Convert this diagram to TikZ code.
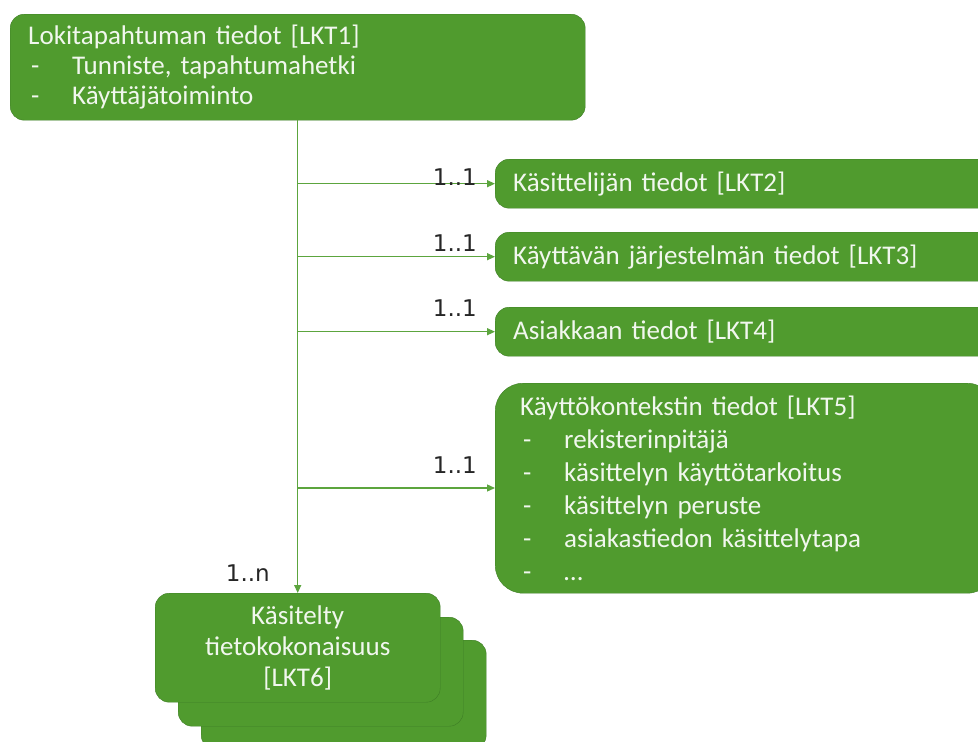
\documentclass[tikz,border=0pt]{standalone}
\usepackage{fontspec}
\setmainfont{Carlito}
\newfontfamily\cardfont{DejaVu Sans}
\usetikzlibrary{arrows.meta,positioning}
\definecolor{lgreen}{RGB}{80,155,46}
\definecolor{lborder}{RGB}{62,125,38}
\definecolor{lline}{RGB}{92,165,62}
\tikzset{
	entity/.style = {draw=lborder, fill=lgreen, text=white!92!lgreen, rounded corners=14pt,
		font=\fontsize{27}{30}\selectfont, inner xsep=18pt, inner ysep=0pt,
		anchor=north west},% tietolaatikko
	entity_l/.style = {entity, align=left, text width=464pt, minimum height=49pt},% yksirivinen
	entity_c/.style = {entity, align=center, text width=249pt, minimum height=109pt,
		font=\fontsize{27}{31}\selectfont},% kasitelty tieto
	mult/.style = {font=\cardfont\fontsize{23}{23}\selectfont, text=black!85,
		inner sep=0pt},% kardinaliteetti
	link/.style = {draw=lline, line width=1.3pt}
}
\newcommand{\kohta}[1]{\makebox[44pt][l]{\hspace{3pt}-}#1}

\begin{document}
\begin{tikzpicture}[x=1pt,y=-1pt,>={Triangle[length=8pt,width=7pt]}]
\clip (0,0) rectangle (978,742);
% paalaatikko
\node [entity, align=left, text width=539pt, minimum height=106pt] (lkt1) at (10,14)
	{Lokitapahtuman tiedot [LKT1]\\ \kohta{Tunniste, tapahtumahetki}\\ \kohta{Käyttäjätoiminto}};
% oikean puolen laatikot
\node [entity_l] (lkt2) at (495,159) {Käsittelijän tiedot [LKT2]};
\node [entity_l] (lkt3) at (495,232) {Käyttävän järjestelmän tiedot [LKT3]};
\node [entity_l] (lkt4) at (495,307) {Asiakkaan tiedot [LKT4]};
\node [entity, align=left, inner xsep=25pt, text width=450pt, minimum height=210pt,
	rounded corners=28pt, font=\fontsize{27}{33}\selectfont] (lkt5) at (495,383)
	{Käyttökontekstin tiedot [LKT5]\\ \kohta{rekisterinpitäjä}\\ \kohta{käsittelyn käyttötarkoitus}\\
	 \kohta{käsittelyn peruste}\\ \kohta{asiakastiedon käsittelytapa}\\ \kohta{\dots}};
% pino
\node [entity_c] (lkt6c) at (201,640) {\phantom{x}};
\node [entity_c] (lkt6b) at (178,617) {\phantom{x}};
\node [entity_c] (lkt6) at (155,593) {Käsitelty\\ tietokokonaisuus\\ {[LKT6]}};
% yhteydet
\draw [link,->] (lkt1.south -| lkt6.north) -- (lkt6.north);
\draw [link,->] (lkt6.north |- lkt2.west) -- (lkt2.west);
\draw [link,->] (lkt6.north |- lkt3.west) -- (lkt3.west);
\draw [link,->] (lkt6.north |- lkt4.west) -- (lkt4.west);
\draw [link,->] (lkt6.north |- 0,488) coordinate (h5) -- (h5 -| lkt5.west);
% kardinaliteetit
\node [mult, anchor=east] (m2) at (477,177) {1..1};
\node [mult, anchor=east] (m3) at (477,243) {1..1};
\node [mult, anchor=east] (m4) at (477,308) {1..1};
\node [mult, anchor=east] (m5) at (477,465) {1..1};
\node [mult, anchor=east] (m6) at (270,573) {1..n};
\end{tikzpicture}
\end{document}
